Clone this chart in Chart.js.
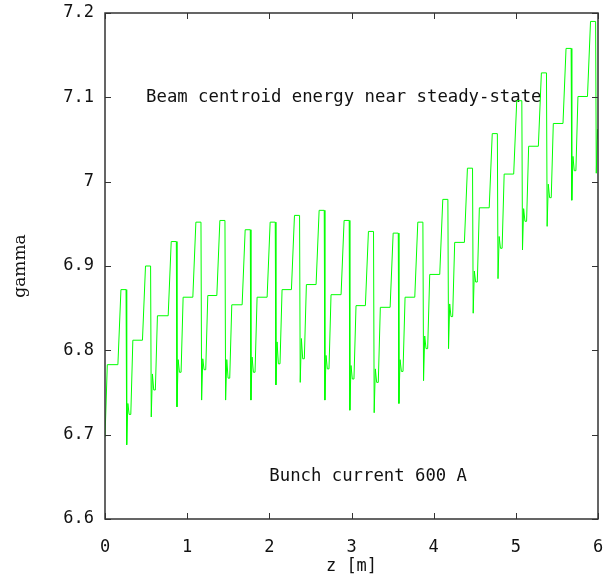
<!DOCTYPE html>
<html>
<head>
<meta charset="utf-8">
<title>Beam centroid energy</title>
<script src="https://cdn.jsdelivr.net/npm/chart.js"></script>
<style>
    html, body { margin: 0; padding: 0; background: #fff; }
    canvas { display: block; }
</style>
</head>
<body>
<canvas id="gammaChart" width="610" height="578"></canvas>
<script>
// values, one entry per bunch period
const dropZ    = [0.264, 0.563, 0.876, 1.176, 1.468, 1.776, 2.080, 2.376, 2.676, 2.980,
                  3.276, 3.577, 3.877, 4.181, 4.481, 4.783, 5.081, 5.381, 5.681, 5.979];
const plateauG = [6.783, 6.812, 6.841, 6.863, 6.865, 6.854, 6.863, 6.872, 6.878, 6.866,
                  6.853, 6.851, 6.863, 6.890, 6.928, 6.969, 7.009, 7.042, 7.069, 7.101];
const peakG    = [6.872, 6.900, 6.929, 6.952, 6.954, 6.943, 6.952, 6.960, 6.966, 6.954,
                  6.941, 6.939, 6.952, 6.979, 7.016, 7.057, 7.096, 7.129, 7.158, 7.190];
const spikeG   = [6.688, 6.721, 6.733, 6.741, 6.741, 6.741, 6.759, 6.762, 6.741, 6.729,
                  6.726, 6.737, 6.764, 6.802, 6.844, 6.885, 6.919, 6.947, 6.978, 7.010];
const kickG    = [6.737, 6.772, 6.789, 6.790, 6.789, 6.792, 6.810, 6.814, 6.794, 6.782,
                  6.778, 6.789, 6.817, 6.855, 6.894, 6.935, 6.968, 6.997, 7.030, 7.062];
const dipG     = [6.724, 6.753, 6.774, 6.777, 6.767, 6.774, 6.784, 6.790, 6.778, 6.766,
                  6.762, 6.775, 6.802, 6.840, 6.881, 6.921, 6.953, 6.981, 7.013];
const startG = 6.697;
const endG = 7.05;

const xTicks = [0, 1, 2, 3, 4, 5, 6];
const yTicks = [6.6, 6.7, 6.8, 6.9, 7.0, 7.1, 7.2];

document.addEventListener('DOMContentLoaded', function () {
    initializeGammaChart();
});

function buildPoints() {
    const pts = [{ x: 0, y: startG }, { x: 0.028, y: plateauG[0] }];
    for (let i = 0; i < dropZ.length; i++) {
        const d = dropZ[i];
        pts.push({ x: d - 0.107, y: plateauG[i] });
        pts.push({ x: d - 0.07, y: peakG[i] });
        pts.push({ x: d - 0.008, y: peakG[i] });
        pts.push({ x: d, y: spikeG[i] });
        pts.push({ x: d + 0.014, y: kickG[i] });
        if (i < dipG.length) {
            pts.push({ x: d + 0.03, y: dipG[i] });
            pts.push({ x: d + 0.05, y: dipG[i] });
            pts.push({ x: d + 0.075, y: plateauG[i + 1] });
        } else {
            pts.push({ x: 6, y: endG });
        }
    }
    return pts;
}

const monoFont = { family: "'DejaVu Sans Mono', monospace", size: 17 };

// frame with inward ticks on all four sides, plus the two text labels
const framePlugin = {
    id: 'framePlugin',
    beforeDatasetsDraw(chart) {
        const { ctx, scales: { x, y } } = chart;
        ctx.save();
        ctx.fillStyle = '#111';
        ctx.font = "17.3px 'DejaVu Sans Mono', monospace";
        ctx.textAlign = 'left';
        ctx.textBaseline = 'middle';
        ctx.fillText('Beam centroid energy near steady-state', x.getPixelForValue(0.5), y.getPixelForValue(7.1));
        ctx.fillText('Bunch current 600 A', x.getPixelForValue(2.0), y.getPixelForValue(6.65));
        ctx.restore();
    },
    afterDraw(chart) {
        const { ctx, chartArea: a, scales: { x, y } } = chart;
        ctx.save();
        ctx.strokeStyle = '#333';
        ctx.lineWidth = 1;
        ctx.beginPath();
        xTicks.forEach(function (v) {
            const px = Math.round(x.getPixelForValue(v)) + 0.5;
            ctx.moveTo(px, a.bottom); ctx.lineTo(px, a.bottom - 6);
            ctx.moveTo(px, a.top); ctx.lineTo(px, a.top + 6);
        });
        yTicks.forEach(function (v) {
            const py = Math.round(y.getPixelForValue(v)) + 0.5;
            ctx.moveTo(a.left, py); ctx.lineTo(a.left + 6, py);
            ctx.moveTo(a.right, py); ctx.lineTo(a.right - 6, py);
        });
        ctx.stroke();
        ctx.lineWidth = 1.5;
        ctx.strokeRect(a.left, a.top, a.right - a.left, a.bottom - a.top);
        ctx.restore();
    }
};

function initializeGammaChart() {
    const ctx = document.getElementById('gammaChart').getContext('2d');

    new Chart(ctx, {
        type: 'line',
        data: {
            datasets: [
                {
                    label: 'gamma',
                    data: buildPoints(),
                    borderColor: '#00ff00',
                    borderWidth: 1,
                    pointRadius: 0,
                    tension: 0,
                    fill: false
                }
            ]
        },
        options: {
            responsive: false,
            animation: false,
            layout: {
                autoPadding: false,
                padding: { left: 0, top: 13, right: 12, bottom: 0 }
            },
            plugins: {
                legend: { display: false },
                tooltip: { enabled: false }
            },
            scales: {
                x: {
                    type: 'linear',
                    min: 0,
                    max: 6,
                    afterBuildTicks: function (scale) {
                        scale.ticks = xTicks.map(v => ({ value: v }));
                    },
                    afterFit: function (scale) {
                        scale.height = 59;
                        scale.paddingLeft = 0;
                        scale.paddingRight = 0;
                    },
                    grid: { display: false, drawTicks: false },
                    border: { display: false },
                    ticks: {
                        color: '#111',
                        font: monoFont,
                        padding: 18,
                        maxRotation: 0,
                        autoSkip: false,
                        callback: v => String(v)
                    },
                    title: {
                        display: true,
                        text: 'z [m]',
                        color: '#111',
                        font: monoFont,
                        padding: { top: 0, bottom: 1 }
                    }
                },
                y: {
                    type: 'linear',
                    min: 6.6,
                    max: 7.2,
                    afterBuildTicks: function (scale) {
                        scale.ticks = yTicks.map(v => ({ value: v }));
                    },
                    afterFit: function (scale) {
                        scale.width = 105;
                        scale.paddingTop = 0;
                        scale.paddingBottom = 0;
                    },
                    grid: { display: false, drawTicks: false },
                    border: { display: false },
                    ticks: {
                        color: '#111',
                        font: monoFont,
                        padding: 11,
                        autoSkip: false,
                        callback: v => String(Math.round(v * 10) / 10)
                    },
                    title: {
                        display: true,
                        text: 'gamma',
                        color: '#111',
                        font: { family: "'DejaVu Serif', serif", size: 17 },
                        padding: { top: 10, bottom: 0 }
                    }
                }
            }
        },
        plugins: [framePlugin]
    });
}
</script>
</body>
</html>
